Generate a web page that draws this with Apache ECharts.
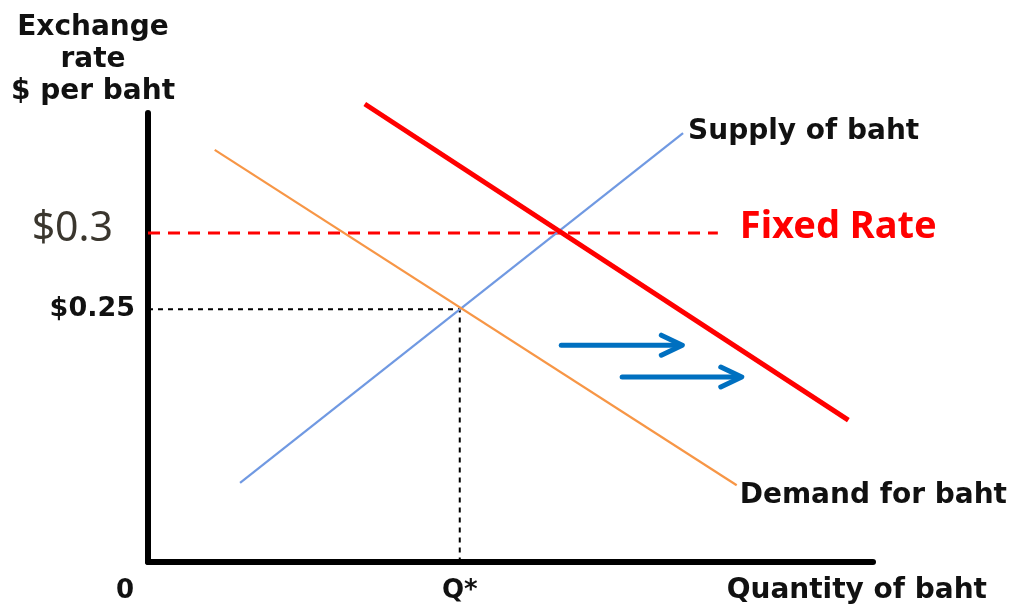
<!DOCTYPE html>
<html>
<head>
<meta charset="utf-8">
<script src="https://cdn.jsdelivr.net/npm/echarts@6/dist/echarts.min.js"></script>
<style>html,body{margin:0;padding:0;background:#fff;}#c{width:1015px;height:606px;}</style>
</head>
<body>
<div id="c"></div>
<script>
// ---- data (abstract quantity / price units) ----
const supplyLine = [[12.7, 17.6], [73.8, 95.5]];
const demandLine = [[9.2, 91.8], [81.2, 17.1]];
const newDemandLine = [[29.9, 102], [96.6, 31.6]];
const fixedRate = 73.3;          // $0.3
const fixedRateEndQ = 78.6;
const eqQ = 43.0;                // Q*
const eqP = 56.3;                // $0.25
const arrows = [[57.0, 73.7, 48.3], [65.4, 81.9, 41.2]]; // [fromQ, toQ, price]
const yTickValues = [eqP, fixedRate];
const yTickLabels = ['$0.25', '$0.3'];
const xTickValues = [0, eqQ];
const xTickLabels = ['0', 'Q*'];

const bold = {fontFamily: 'DejaVu Sans', fontWeight: 'bold', fontSize: 28, color: '#111'};

const chart = echarts.init(document.getElementById('c'), null, {renderer: 'canvas'});
chart.setOption({
  animation: false,
  backgroundColor: '#fff',
  grid: {left: 148, right: 142, top: 113, bottom: 44, containLabel: false, outerBoundsMode: 'none'},
  xAxis: {
    type: 'value', min: 0, max: 100,
    axisLine: {show: true, onZero: false, lineStyle: {color: '#000', width: 6}},
    axisTick: {show: false}, splitLine: {show: false},
    axisLabel: {
      show: true, margin: 16, customValues: xTickValues,
      formatter: v => v === 0 ? '{z|' + xTickLabels[0] + '}' : '{q|' + xTickLabels[1] + '}',
      rich: {
        z: Object.assign({}, bold, {fontSize: 26, padding: [0, 46, 0, 0]}),
        q: Object.assign({}, bold, {fontSize: 26})
      }
    },
    name: 'Quantity of baht', nameLocation: 'end', nameGap: 114,
    nameTextStyle: Object.assign({}, bold, {align: 'right', verticalAlign: 'top', lineHeight: 58})
  },
  yAxis: {
    type: 'value', min: 0, max: 100,
    axisLine: {show: true, onZero: false, lineStyle: {color: '#000', width: 6}},
    axisTick: {show: false}, splitLine: {show: false},
    axisLabel: {
      show: true, margin: 13, customValues: yTickValues,
      formatter: v => v === eqP ? '{b|' + yTickLabels[0] + '}' : '{a|' + yTickLabels[1] + '}',
      rich: {
        a: {fontFamily: 'Noto Sans', fontSize: 41, color: '#3a362e', padding: [0, 22, 8, 0]},
        b: Object.assign({}, bold, {fontSize: 27})
      }
    },
    name: 'Exchange\nrate\n$ per baht', nameLocation: 'end', nameGap: 5,
    nameTextStyle: Object.assign({}, bold, {align: 'center', verticalAlign: 'bottom', lineHeight: 32, padding: [0, 110, 0, 0]})
  },
  series: [
    {
      name: 'eq', type: 'line', data: [[0, eqP], [eqQ, eqP], [eqQ, 0]],
      symbol: 'none', lineStyle: {color: '#000', width: 2, type: [5, 5]}, silent: true, z: 1
    },
    {
      name: 'Fixed Rate', type: 'line', data: [[0, fixedRate], [fixedRateEndQ, fixedRate]],
      symbol: 'none', lineStyle: {color: '#ff0000', width: 3, type: [12, 8]}, z: 2,
      endLabel: {show: true, formatter: 'Fixed Rate', distance: 22, offset: [0, -6],
        fontFamily: 'Noto Sans', fontWeight: 'bold', fontSize: 38, color: '#ff0000'}
    },
    {
      name: 'Supply of baht', type: 'line', data: supplyLine, symbol: 'none',
      lineStyle: {color: '#7099e2', width: 2.2}, z: 3,
      endLabel: Object.assign({show: true, formatter: 'Supply of baht', distance: 5, offset: [0, -1]}, bold)
    },
    {
      name: 'Demand for baht', type: 'line', data: demandLine, symbol: 'none',
      lineStyle: {color: '#f79646', width: 2.2}, z: 3,
      endLabel: Object.assign({show: true, formatter: 'Demand for baht', distance: 3, offset: [0, 10]}, bold)
    },
    {
      name: 'New demand', type: 'line', data: newDemandLine, symbol: 'none', clip: false,
      lineStyle: {color: '#ff0000', width: 5}, z: 4
    },
    {
      name: 'shift', type: 'custom', data: arrows, clip: false, z: 5,
      encode: {x: [0, 1], y: 2},
      renderItem: function (params, api) {
        const p1 = api.coord([api.value(0), api.value(2)]);
        const p2 = api.coord([api.value(1), api.value(2)]);
        const st = {stroke: '#0070c0', lineWidth: 5, lineCap: 'round', lineJoin: 'round', fill: null};
        return {
          type: 'group',
          children: [
            {type: 'line', shape: {x1: p1[0], y1: p1[1], x2: p2[0] - 2, y2: p2[1]}, style: st},
            {type: 'polyline', shape: {points: [[p2[0] - 21, p2[1] - 10], [p2[0], p2[1]], [p2[0] - 21, p2[1] + 10]]}, style: st}
          ]
        };
      }
    }
  ]
});
</script>
</body>
</html>
